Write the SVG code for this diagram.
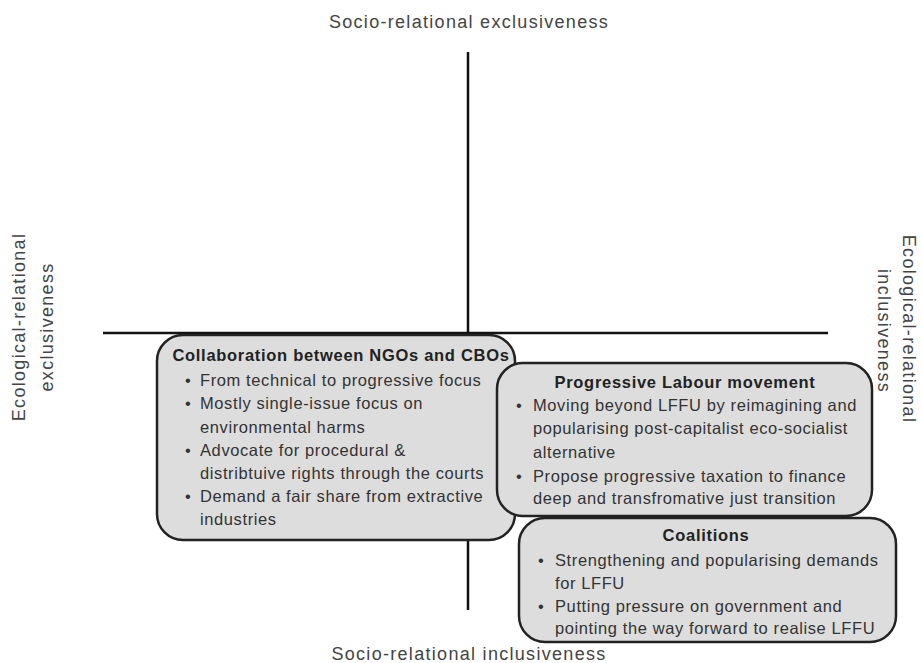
<svg xmlns="http://www.w3.org/2000/svg" width="922" height="663" viewBox="0 0 922 663">
<style>
text{font-family:"Liberation Sans",Arial,sans-serif;fill:#333;font-size:16.5px;letter-spacing:0.6px}
.ax{font-size:18px;fill:#444;letter-spacing:1.3px}
.t{font-weight:bold;fill:#222;letter-spacing:0.7px}
.box{fill:#dddddd;stroke:#222;stroke-width:2.5}
.axis{stroke:#111;stroke-width:2.5}
</style>
<rect width="922" height="663" fill="#fff"/>
<g id="axes">
<line class="axis" x1="468" y1="52" x2="468" y2="610"/>
<line class="axis" x1="103" y1="333" x2="828" y2="333"/>
</g>
<g id="labels">
<text class="ax" x="469" y="28" text-anchor="middle">Socio-relational exclusiveness</text>
<text class="ax" x="469" y="660" text-anchor="middle">Socio-relational inclusiveness</text>
<text class="ax" transform="translate(25,327) rotate(-90)" text-anchor="middle">Ecological-relational</text>
<text class="ax" transform="translate(53,327) rotate(-90)" text-anchor="middle">exclusiveness</text>
<text class="ax" transform="translate(903,329) rotate(90)" text-anchor="middle">Ecological-relational</text>
<text class="ax" transform="translate(878,331) rotate(90)" text-anchor="middle">inclusiveness</text>
</g>
<g id="ngo">
<rect class="box" x="157" y="335" width="358" height="205" rx="26"/>
<text class="t" x="341" y="361" text-anchor="middle">Collaboration between NGOs and CBOs</text>
<text x="185" y="386">•</text><text x="200" y="386">From technical to progressive focus</text>
<text x="185" y="409">•</text><text x="200" y="409">Mostly single-issue focus on</text>
<text x="200" y="433">environmental harms</text>
<text x="185" y="456">•</text><text x="200" y="456">Advocate for procedural &amp;</text>
<text x="200" y="479">distribtuive rights through the courts</text>
<text x="185" y="502">•</text><text x="200" y="502">Demand a fair share from extractive</text>
<text x="200" y="525">industries</text>
</g>
<g id="labour">
<rect class="box" x="497" y="363" width="375" height="153" rx="26"/>
<text class="t" x="685" y="388" text-anchor="middle">Progressive Labour movement</text>
<text x="516" y="411">•</text><text x="533" y="411">Moving beyond LFFU by reimagining and</text>
<text x="533" y="434">popularising post-capitalist eco-socialist</text>
<text x="533" y="458">alternative</text>
<text x="516" y="482">•</text><text x="533" y="482">Propose progressive taxation to finance</text>
<text x="533" y="504">deep and transfromative just transition</text>
</g>
<g id="coalitions">
<rect class="box" x="519" y="518" width="377" height="124" rx="26"/>
<text class="t" x="706" y="541" text-anchor="middle">Coalitions</text>
<text x="538" y="566">•</text><text x="555" y="566">Strengthening and popularising demands</text>
<text x="555" y="589">for LFFU</text>
<text x="538" y="612">•</text><text x="555" y="612">Putting pressure on government and</text>
<text x="555" y="634">pointing the way forward to realise LFFU</text>
</g>
</svg>
